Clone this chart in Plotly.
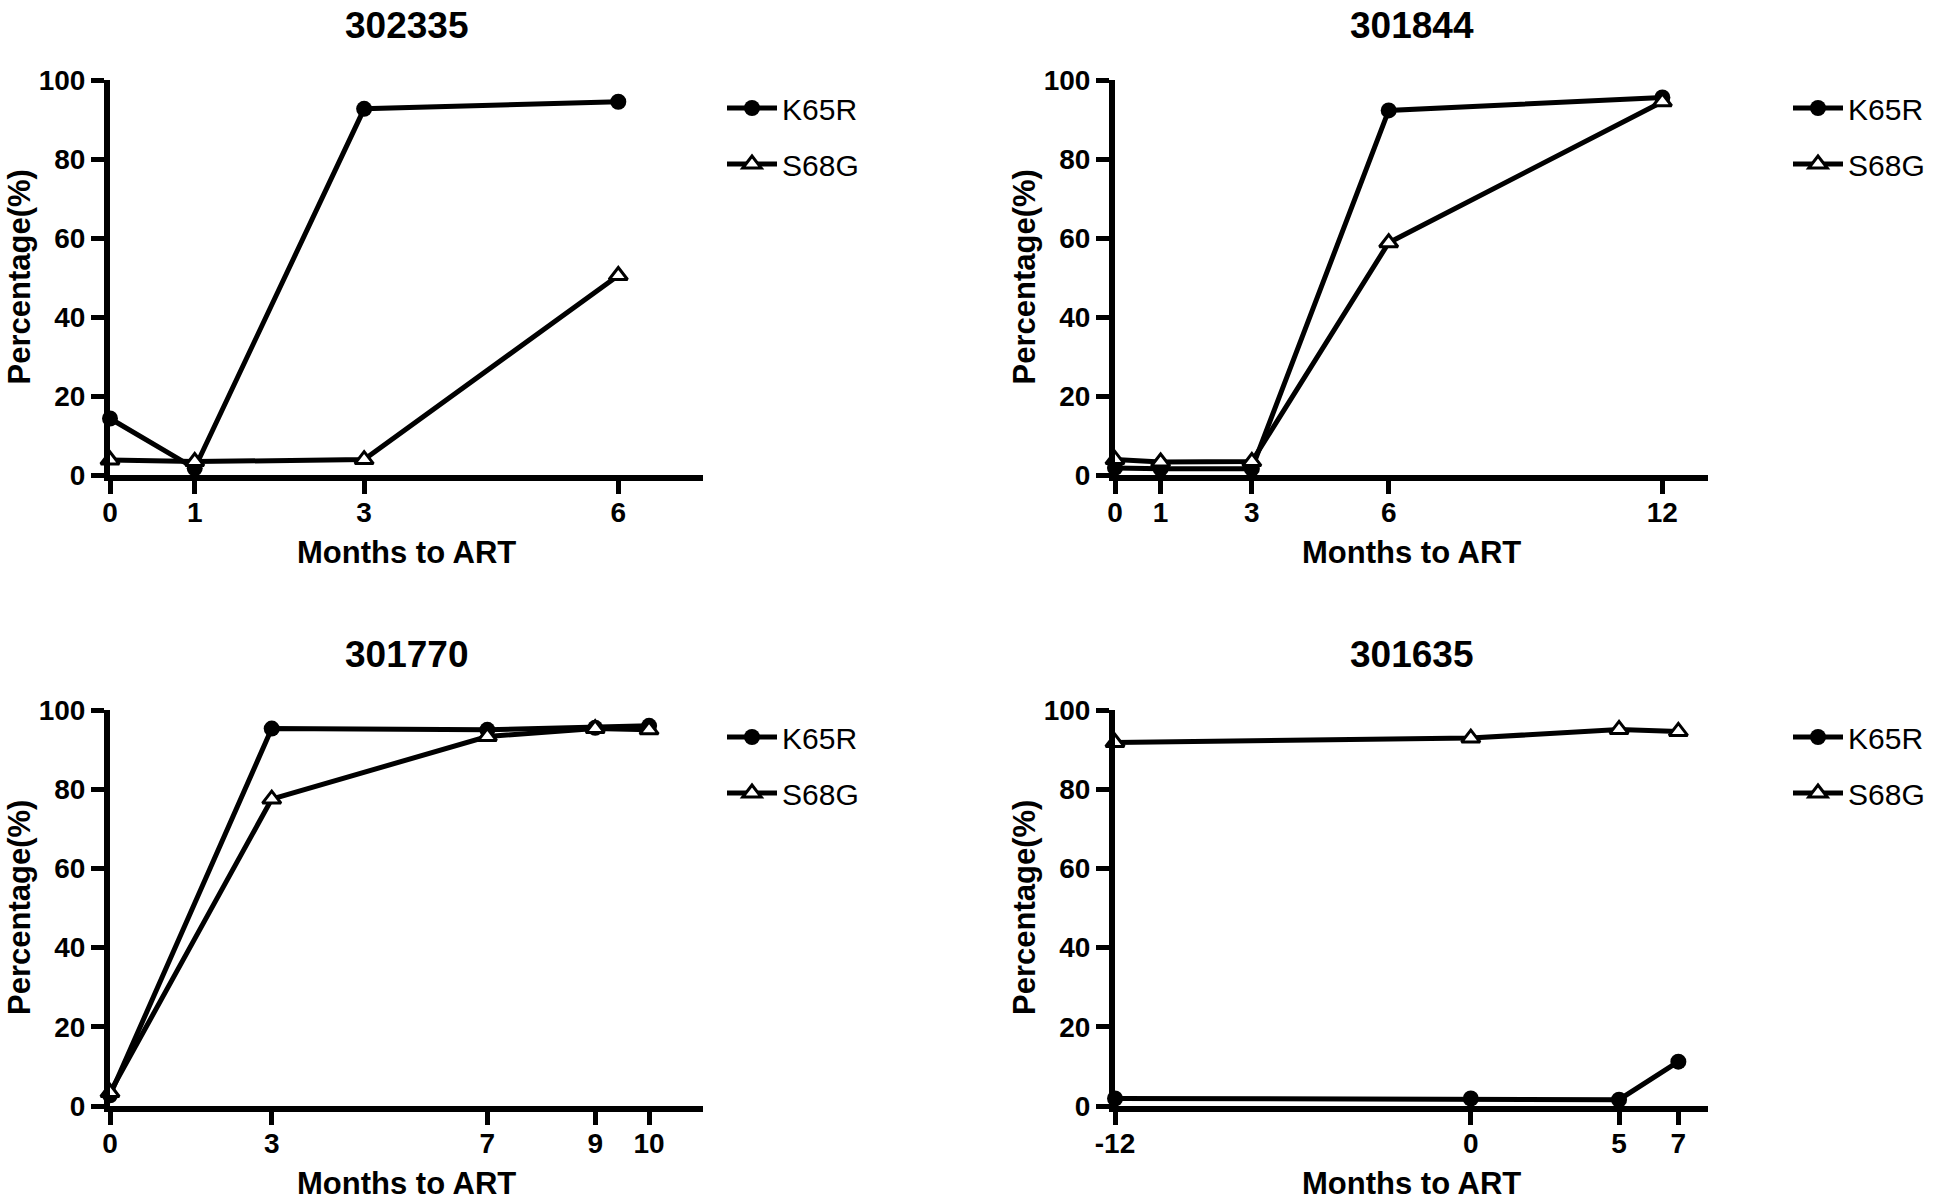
import plotly.graph_objects as go

W, H = 1946, 1200

# ---------------- data ----------------
titles = ["302335", "301844", "301770", "301635"]

p1_months = [0, 1, 3, 6]
p1_k65r = [14.3, 1.7, 92.7, 94.5]
p1_s68g = [3.8, 3.4, 3.9, 50.5]

p2_months = [0, 1, 3, 6, 12]
p2_k65r = [1.8, 1.6, 1.6, 92.3, 95.6]
p2_s68g = [3.9, 3.3, 3.4, 58.8, 94.5]

p3_months = [0, 3, 7, 9, 10]
p3_k65r = [2.7, 95.3, 95.0, 95.5, 96.0]
p3_s68g = [3.4, 77.5, 93.3, 95.3, 95.0]

p4_months = [-12, 0, 5, 7]
p4_k65r = [1.9, 1.9, 1.6, 11.2]
p4_s68g = [91.8, 92.9, 95.1, 94.6]

y_ticks = [0, 20, 40, 60, 80, 100]
x_ranges = [[0, 7], [0, 13], [0, 11], [-12, 8]]

panels = [
    (p1_months, p1_k65r, p1_s68g),
    (p2_months, p2_k65r, p2_s68g),
    (p3_months, p3_k65r, p3_s68g),
    (p4_months, p4_k65r, p4_s68g),
]

# ---------------- layout geometry (pixels in the screenshot) ----------------
plot_x = [(110, 703), (1115, 1708), (110, 703), (1115, 1708)]
plot_y = [(80, 475), (80, 475), (710, 1106), (710, 1106)]
legend_left = [722, 1788, 722, 1788]
legend_top = [82, 82, 711, 711]

FONT = "Liberation Sans, Arial, Helvetica, sans-serif"

def px_x(v):
    return v / W

def px_y(v):
    return 1 - v / H

fig = go.Figure()
layout = dict(
    width=W, height=H,
    margin=dict(l=0, r=0, t=0, b=0, autoexpand=False),
    paper_bgcolor="white", plot_bgcolor="white",
    font=dict(family=FONT, color="black"),
    annotations=[],
)

for i, (months, k65r, s68g) in enumerate(panels):
    n = "" if i == 0 else str(i + 1)
    xa, ya = "x" + n, "y" + n
    lg = "legend" + n
    fig.add_trace(go.Scatter(
        x=months, y=k65r, name="K65R", mode="lines+markers",
        xaxis=xa, yaxis=ya, legend=lg, legendgroup="k" + n,
        line=dict(color="black", width=5),
        marker=dict(symbol="circle", size=16, color="black"),
        cliponaxis=False,
    ))
    fig.add_trace(go.Scatter(
        x=months, y=s68g, name="S68G", mode="lines+markers",
        xaxis=xa, yaxis=ya, legend=lg, legendgroup="s" + n,
        line=dict(color="black", width=5),
        marker=dict(symbol="triangle-up", size=16, color="white",
                    line=dict(color="black", width=3)),
        cliponaxis=False,
    ))
    x0, x1 = plot_x[i]
    y0, y1 = plot_y[i]
    layout["xaxis" + n] = dict(
        domain=[px_x(x0), px_x(x1)], anchor=ya, range=x_ranges[i],
        tickvals=months, ticktext=[str(m) for m in months],
        ticks="outside", ticklen=13, tickwidth=5, tickcolor="black",
        showline=True, linewidth=6, linecolor="black",
        showgrid=False, zeroline=False, ticklabelstandoff=-6,
        tickfont=dict(family=FONT, size=28, weight="bold"),
    )
    layout["yaxis" + n] = dict(
        domain=[px_y(y1), px_y(y0)], anchor=xa, range=[0, 100],
        tickvals=y_ticks, ticks="outside", ticklen=13, tickwidth=5,
        tickcolor="black", showline=True, linewidth=6, linecolor="black",
        showgrid=False, zeroline=False,
        tickfont=dict(family=FONT, size=28, weight="bold"),
    )
    layout[lg] = dict(
        x=px_x(legend_left[i]), y=px_y(legend_top[i]),
        xanchor="left", yanchor="top",
        font=dict(family=FONT, size=30, color="black"),
        tracegroupgap=14, itemwidth=50, bgcolor="rgba(0,0,0,0)",
    )
    cx = (x0 + x1) / 2
    cy = (y0 + y1) / 2
    layout["annotations"] += [
        dict(text=titles[i], x=px_x(cx), y=px_y(y0 - 55), xref="paper", yref="paper",
             showarrow=False, xanchor="center", yanchor="middle",
             font=dict(family=FONT, size=37, weight="bold")),
        dict(text="Months to ART", x=px_x(cx), y=px_y(y1 + 77), xref="paper", yref="paper",
             showarrow=False, xanchor="center", yanchor="middle",
             font=dict(family=FONT, size=31, weight="bold")),
        dict(text="Percentage(%)", x=px_x(x0 - 91), y=px_y(cy), xref="paper", yref="paper",
             showarrow=False, xanchor="center", yanchor="middle", textangle=-90,
             font=dict(family=FONT, size=31, weight="bold")),
    ]

fig.update_layout(**layout)
fig.write_html(
    "out.html",
    config={"displayModeBar": False},
    post_script="document.body.style.margin='0';document.body.style.overflow='hidden';",
)
